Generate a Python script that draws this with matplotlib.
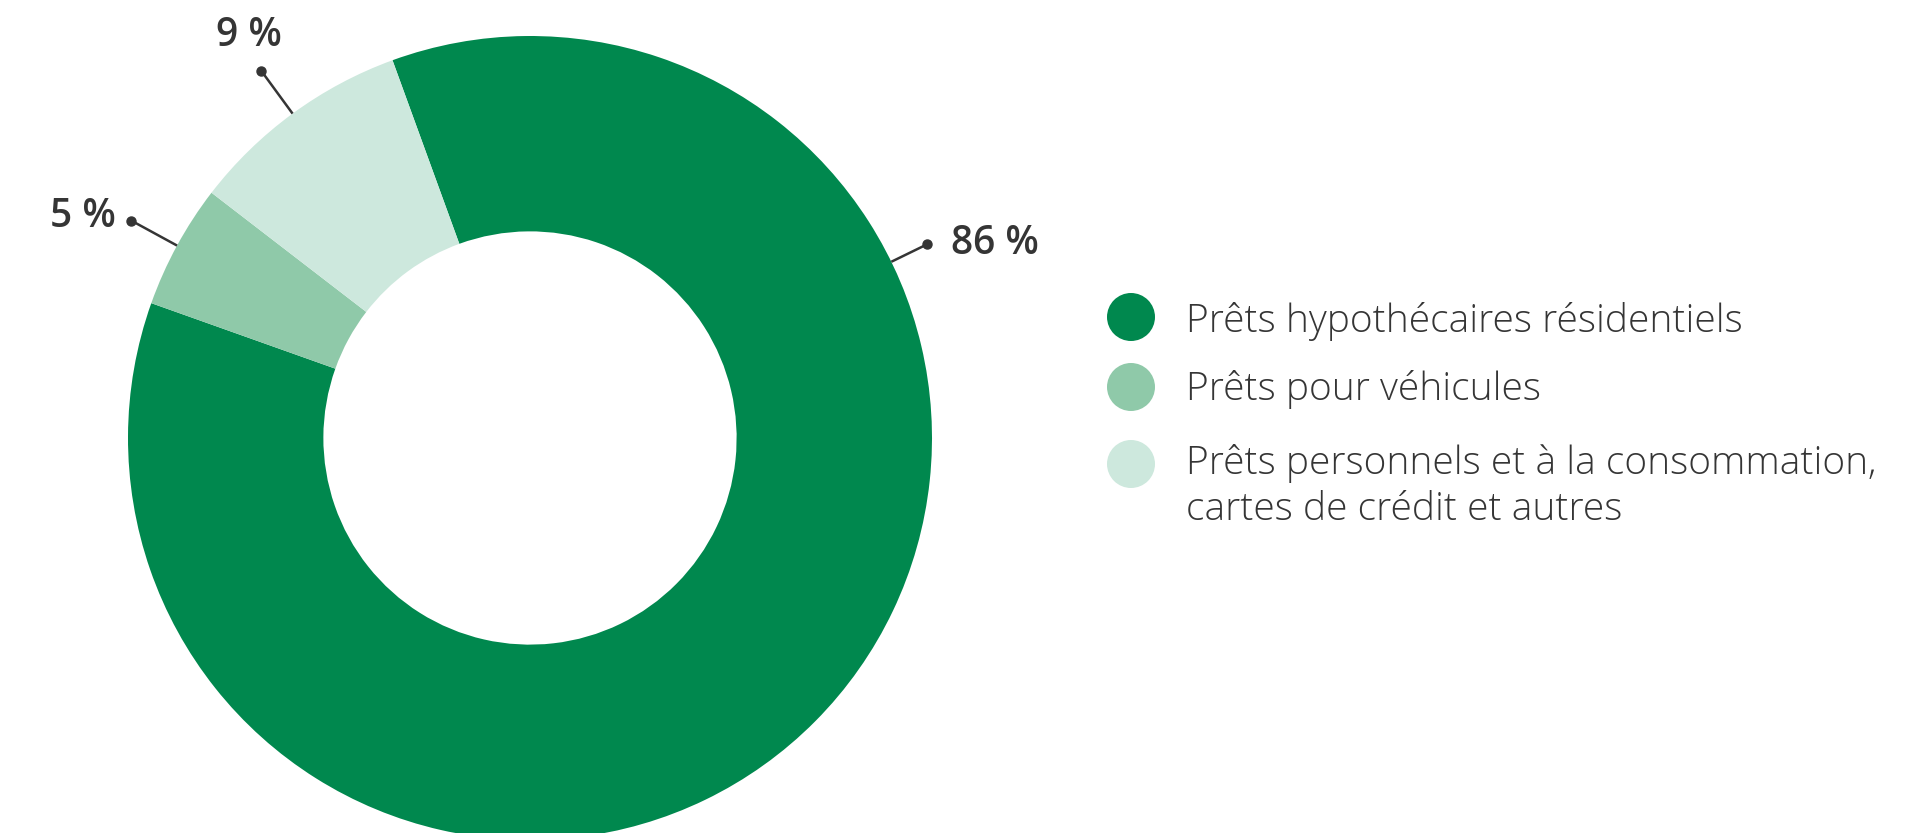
import matplotlib
matplotlib.use('Agg')
from matplotlib import pyplot as plt
from matplotlib.patches import Circle
import numpy as np

# données
categories = ["Prêts hypothécaires résidentiels",
              "Prêts pour véhicules",
              "Prêts personnels et à la consommation,\ncartes de crédit et autres"]
values = [86, 5, 9]
pct_labels = ["86 %", "5 %", "9 %"]
colors = ["#00884E", "#8FC9A9", "#CDE8DD"]

W, H = 1916, 833
fig = plt.figure(figsize=(W / 100, H / 100), dpi=100)
ax = fig.add_axes([0, 0, 1, 1])

# centre et rayon en pixels (y vers le haut)
cx, cy, r = 530, H - 438, 402
wedges, _ = ax.pie(values, colors=colors, startangle=110, counterclock=False,
                   center=(cx, cy), radius=r,
                   wedgeprops=dict(width=r * 0.486, linewidth=0))

ax.set_xlim(0, W)
ax.set_ylim(0, H)
ax.set_aspect('equal')
ax.axis('off')

dark = "#353535"
# étiquettes avec ligne de rappel
label_angles = [26, None, None]      # la grande part a son étiquette à droite
lead = [40, 52, 53]
offsets = [(24, 0, 'left', 'center'), (-16, 4, 'right', 'center'), (-12, 15, 'center', 'bottom')]
for w, lab, ang, ln, off in zip(wedges, pct_labels, label_angles, lead, offsets):
    if ang is None:
        ang = (w.theta1 + w.theta2) / 2
    a = np.deg2rad(ang)
    x0, y0 = cx + r * np.cos(a), cy + r * np.sin(a)
    x1, y1 = cx + (r + ln) * np.cos(a), cy + (r + ln) * np.sin(a)
    ax.plot([x0, x1], [y0, y1], color=dark, lw=1.8, solid_capstyle='butt')
    ax.plot(x1, y1, 'o', color=dark, ms=6.5)
    ax.text(x1 + off[0], y1 + off[1], lab, ha=off[2], va=off[3], fontsize=28,
            fontfamily='Open Sans', fontweight=600, color=dark)

# légende (pour le texte sur deux lignes, la ligne de base est celle de la dernière ligne)
circle_y = [317, 387, 464]
text_y = [332, 400, 520]
for c, lab, ycirc, ytxt in zip(colors, categories, circle_y, text_y):
    ax.add_patch(Circle((1131, H - ycirc), 24, color=c, lw=0))
    ax.text(1186, H - ytxt, lab, ha='left', va='baseline', fontsize=28,
            fontfamily='Open Sans', fontweight=300, color=dark, linespacing=1.25)

fig.savefig('out.png', dpi=100)
